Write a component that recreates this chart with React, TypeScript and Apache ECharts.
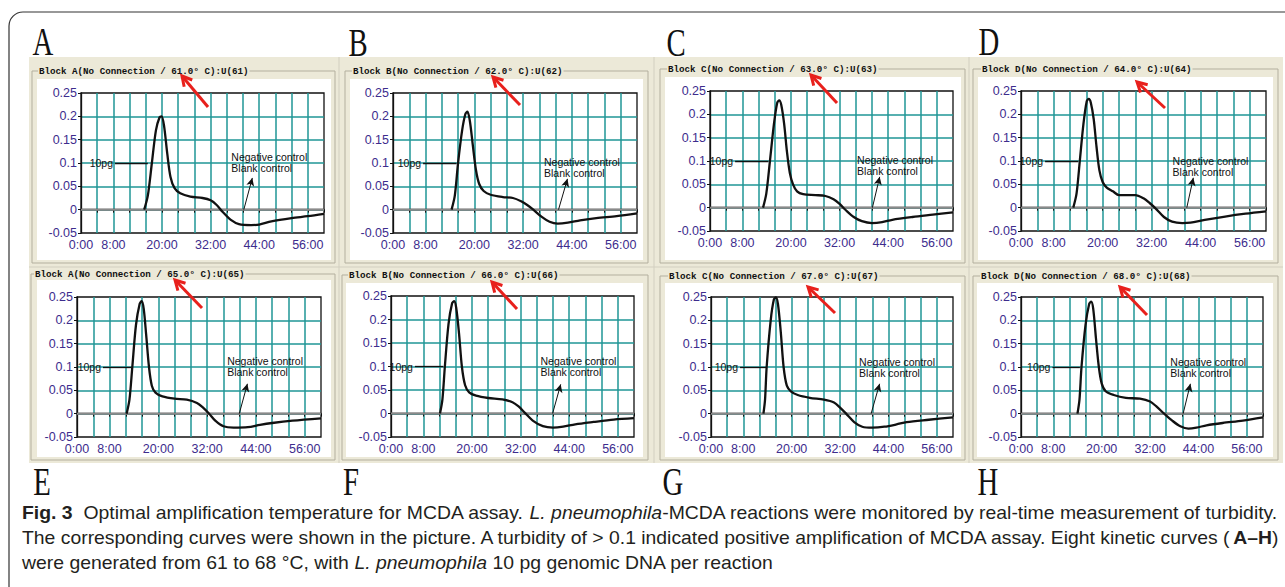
import React, { useEffect, useRef } from "react";
import * as echarts from "echarts";

// ---------- data ----------
const panelLetters = ["A", "B", "C", "D", "E", "F", "G", "H"];
const blockNames = ["A", "B", "C", "D", "A", "B", "C", "D"];
const temperatures = [61, 62, 63, 64, 65, 66, 67, 68];
const xTickValues = [0, 8, 20, 32, 44, 56];
const xTickLabels = ["0:00", "8:00", "20:00", "32:00", "44:00", "56:00"];
const controlTimes = [0, 60];
const controlValues = [0, 0];

// [minutes, turbidity] for the 10 pg reaction
const curve61 = [[15.6,0],[16.5,0.03],[17.5,0.1],[18.5,0.17],[19.4,0.198],[19.9,0.2],[20.5,0.18],[21.3,0.12],[22.1,0.07],[23.1,0.046],[24.5,0.035],[27,0.028],[30,0.025],[32,0.02],[33.5,0.01],[35,-0.005],[37,-0.022],[39,-0.031],[42,-0.033],[44,-0.032],[47,-0.025],[52,-0.018],[56,-0.014],[60,-0.009]];
const curve62 = [[14.4,0],[15.2,0.03],[16,0.1],[17,0.17],[17.8,0.205],[18.3,0.21],[18.9,0.19],[19.6,0.14],[20.4,0.085],[21.2,0.055],[22.3,0.04],[24,0.032],[27,0.027],[29.5,0.025],[31.5,0.018],[33,0.01],[34.5,0],[36.5,-0.015],[38.5,-0.026],[40.5,-0.03],[43,-0.028],[46,-0.023],[50,-0.018],[55,-0.014],[60,-0.008]];
const curve63 = [[13.1,0],[13.9,0.03],[14.8,0.1],[15.8,0.18],[16.6,0.225],[17.1,0.23],[17.6,0.22],[18.3,0.18],[19,0.12],[19.7,0.075],[20.5,0.05],[21.5,0.035],[23,0.029],[26,0.027],[28.5,0.025],[30.5,0.018],[32,0.008],[33.5,-0.005],[35.5,-0.02],[37.5,-0.029],[40,-0.033],[42.5,-0.031],[45,-0.026],[50,-0.02],[55,-0.015],[60,-0.01]];
const curve64 = [[12.8,0],[13.6,0.03],[14.4,0.1],[15.3,0.18],[16.1,0.228],[16.6,0.233],[17.1,0.225],[17.8,0.19],[18.5,0.13],[19.2,0.08],[20,0.055],[21,0.043],[22.5,0.035],[24,0.027],[28,0.027],[30,0.02],[31.5,0.01],[33,-0.002],[35,-0.02],[37,-0.03],[39.5,-0.033],[41.5,-0.032],[45,-0.026],[50,-0.019],[55,-0.013],[60,-0.008]];
const curve65 = [[12.2,0],[12.9,0.03],[13.6,0.1],[14.5,0.19],[15.4,0.235],[15.9,0.241],[16.4,0.225],[17,0.17],[17.7,0.1],[18.4,0.06],[19.3,0.045],[21,0.037],[24,0.032],[27,0.03],[29.5,0.023],[31,0.013],[32.5,0],[34,-0.015],[36,-0.027],[38.5,-0.03],[42,-0.029],[45,-0.024],[48,-0.02],[53,-0.015],[60,-0.01]];
const curve66 = [[12.1,0],[12.7,0.03],[13.3,0.1],[14.2,0.19],[15.1,0.235],[15.6,0.239],[16.1,0.225],[16.8,0.17],[17.5,0.1],[18.3,0.06],[19.3,0.045],[21,0.038],[24,0.033],[27.5,0.03],[30,0.024],[31.5,0.015],[33,0.002],[35,-0.015],[37.5,-0.027],[40,-0.03],[42.5,-0.028],[45.5,-0.023],[50,-0.018],[55,-0.013],[60,-0.01]];
const curve67 = [[13,0],[13.4,0.03],[13.8,0.1],[14.8,0.2],[15.6,0.245],[16.1,0.249],[16.6,0.235],[17.3,0.175],[18,0.1],[18.8,0.06],[19.8,0.048],[21.5,0.04],[24.5,0.034],[28,0.03],[30.5,0.024],[32,0.013],[33.5,0],[35.5,-0.018],[37.5,-0.028],[40,-0.03],[43,-0.028],[46,-0.023],[48.5,-0.018],[54,-0.013],[60,-0.008]];
const curve68 = [[14,0],[14.5,0.03],[15,0.1],[16,0.19],[16.9,0.235],[17.4,0.24],[17.9,0.225],[18.6,0.16],[19.3,0.1],[20,0.065],[21,0.048],[23,0.04],[26,0.034],[29.5,0.032],[32,0.026],[33.5,0.016],[35.5,0],[37.5,-0.015],[39.5,-0.027],[41.5,-0.032],[43.5,-0.03],[46,-0.025],[50,-0.02],[55,-0.015],[60,-0.008]];
const curves = [curve61, curve62, curve63, curve64, curve65, curve66, curve67, curve68];

// annotation anchors in data units (minutes, turbidity)
const pgLineStart = [8.4, 7.4, 6.2, 5.9, 6.4, 5.9, 7.2, 7.8];
const pgLineEnd = [16.5, 15.6, 14.4, 14.0, 13.4, 12.9, 13.8, 14.6];
const pgLevel = 0.1;
const ctrlTextX = [37.0, 37.0, 36.2, 37.0, 36.8, 36.8, 36.6, 36.9];
const ctrlTextY = [0.101, 0.091, 0.09, 0.089, 0.101, 0.101, 0.1, 0.1];
const ctrlArrowFrom = [40.2, 40.7, 40.1, 40.6, 39.9, 39.9, 39.7, 40.2];
const ctrlArrowToX = [42.3, 42.9, 41.9, 42.2, 41.9, 41.9, 41.8, 42.0];
const ctrlArrowToY = [0.068, 0.066, 0.066, 0.064, 0.064, 0.062, 0.064, 0.064];

// ---------- layout (pixels) ----------
const gridBoxes = [
  [81, 93, 243, 140], [393, 93, 244, 140], [710, 91, 243, 140], [1021, 91, 245, 140],
  [77, 297, 244, 140], [391, 296, 243, 141], [711, 297, 242, 140], [1021, 297, 242, 140],
];
const frames = [
  [32, 71, 335, 263], [345, 71, 648, 263], [660, 69, 965, 263], [973, 69, 1278, 263],
  [31, 274, 335, 460], [342, 275, 648, 460], [660, 276, 965, 460], [973, 276, 1278, 460],
];
const inners = [
  [37, 79, 331, 260], [350, 79, 643, 260], [665, 77, 961, 260], [978, 77, 1273, 260],
  [37, 280, 331, 457], [346, 283, 643, 457], [665, 283, 961, 457], [977, 283, 1273, 457],
];
const titlePos = [
  [38, 71.5], [352, 71], [667, 69], [981, 69], [34, 274], [348, 275], [668, 276], [980, 276],
];
const letterPos = [
  [43, 41.5], [358, 42.5], [676, 43], [989, 42], [42, 482], [351, 482], [673, 482], [988, 482],
];
const redArrows = [
  [182, 76, 208, 107], [493, 77, 520, 105], [811, 75, 837, 103], [1137, 82, 1165, 108],
  [175, 280, 202, 308], [492, 282, 517, 309], [808, 287, 835, 313], [1120, 287, 1147, 315],
];

const BEIGE = "#ece9d8";
const TEAL = "#1f9696";
const LABEL = "#3d2c8d";
const SANS = "'Liberation Sans', Arial, sans-serif";
const CAP_FONT = "'Liberation Sans Narrow', 'Liberation Sans', Arial, sans-serif";
const CAP_SIZE = 18;

const captionLines: [string, string][][] = [
  [["b", "Fig. 3"], ["n", "  Optimal amplification temperature for MCDA assay. "], ["i", "L. pneumophila"], ["n", "-MCDA reactions were monitored by real-time measurement of turbidity."]],
  [["n", "The corresponding curves were shown in the picture. A turbidity of > 0.1 indicated positive amplification of MCDA assay. Eight kinetic curves ("], ["b", "A–H"], ["n", ")"]],
  [["n", "were generated from 61 to 68 °C, with "], ["i", "L. pneumophila"], ["n", " 10 pg genomic DNA per reaction"]],
];
const captionY = [513, 538, 563];

function fontFor(kind: string) {
  if (kind === "b") return `normal 700 ${CAP_SIZE}px ${CAP_FONT}`;
  if (kind === "i") return `italic 400 ${CAP_SIZE}px ${CAP_FONT}`;
  return `normal 400 ${CAP_SIZE}px ${CAP_FONT}`;
}

function measureLine(segs: [string, string][]) {
  const c = document.createElement("canvas").getContext("2d");
  if (!c) return 1000;
  let w = 0;
  for (const [k, t] of segs) {
    c.font = fontFor(k);
    w += c.measureText(t).width;
  }
  return w;
}

function arrowHead(hx: number, hy: number, tx: number, ty: number) {
  const a = Math.atan2(ty - hy, tx - hx);
  const L = 11;
  const d = 0.5;
  return [
    [hx + L * Math.cos(a + d), hy + L * Math.sin(a + d)],
    [hx, hy],
    [hx + L * Math.cos(a - d), hy + L * Math.sin(a - d)],
  ];
}

function buildOption() {
  const grid: any[] = [];
  const xAxis: any[] = [];
  const yAxis: any[] = [];
  const series: any[] = [];
  const graphic: any[] = [];

  graphic.push({ type: "rect", shape: { x: 9, y: 12, width: 1320, height: 700, r: 14 }, style: { fill: "#fff", stroke: "#333", lineWidth: 1.2 }, z: -10 });
  graphic.push({ type: "rect", shape: { x: 29, y: 57, width: 1254, height: 406 }, style: { fill: BEIGE }, z: -9 });
  [339, 654, 969].forEach((x) =>
    graphic.push({ type: "line", shape: { x1: x, y1: 57, x2: x, y2: 463 }, style: { stroke: "#d2cfc0", lineWidth: 1 }, z: -8 })
  );
  graphic.push({ type: "line", shape: { x1: 29, y1: 267, x2: 1283, y2: 267 }, style: { stroke: "#d2cfc0", lineWidth: 1 }, z: -8 });

  for (let i = 0; i < 8; i++) {
    const [gl, gt, gw, gh] = gridBoxes[i];
    grid.push({ left: gl, top: gt, width: gw, height: gh, show: true, backgroundColor: "#fff", borderColor: "#111", borderWidth: 1.3 });
    xAxis.push({
      gridIndex: i, type: "value", min: 0, max: 60, interval: 4,
      axisLine: { show: true, lineStyle: { color: "#111", width: 1.3 } },
      axisTick: { show: true, length: 3, lineStyle: { color: "#111" } },
      axisLabel: {
        color: LABEL, fontSize: 12.5, fontFamily: SANS, margin: 5,
        formatter: (v: number) => { const k = xTickValues.indexOf(v); return k >= 0 ? xTickLabels[k] : ""; },
      },
      splitLine: { show: true, showMinLine: false, showMaxLine: false, lineStyle: { color: TEAL, width: 1.5 } },
    });
    yAxis.push({
      gridIndex: i, type: "value", min: -0.05, max: 0.25, interval: 0.05,
      axisLine: { show: true, lineStyle: { color: "#111", width: 1.3 } },
      axisTick: { show: true, length: 3, lineStyle: { color: "#111" } },
      axisLabel: { color: LABEL, fontSize: 12.5, fontFamily: SANS, margin: 4 },
      splitLine: { show: true, showMinLine: false, showMaxLine: false, lineStyle: { color: TEAL, width: 1.5 } },
    });
    series.push({
      name: "Negative control / Blank control", type: "line", xAxisIndex: i, yAxisIndex: i,
      data: controlTimes.map((t, k) => [t, controlValues[k]]),
      symbol: "none", silent: true, lineStyle: { color: "#8a8a8a", width: 2 }, z: 3,
    });
    series.push({
      name: "10pg", type: "line", xAxisIndex: i, yAxisIndex: i, data: curves[i],
      smooth: 0.3, symbol: "none", silent: true, lineStyle: { color: "#111", width: 2.3 }, z: 4,
      markLine: {
        silent: true, symbol: ["none", "none"],
        lineStyle: { type: "solid", color: "#111", width: 1.3 },
        data: [
          [
            { coord: [pgLineStart[i], pgLevel], label: { show: true, position: "start", formatter: "10pg", distance: 2, color: "#111", fontSize: 10.5, fontFamily: SANS } },
            { coord: [pgLineEnd[i], pgLevel] },
          ],
          [
            { coord: [ctrlArrowFrom[i], 0], label: { show: false }, lineStyle: { width: 1 } },
            { coord: [ctrlArrowToX[i], ctrlArrowToY[i]], symbol: "arrow", symbolSize: [6, 8] },
          ],
        ],
      },
      markPoint: {
        silent: true,
        data: [
          {
            coord: [ctrlTextX[i], ctrlTextY[i]], symbol: "rect", symbolSize: 1,
            itemStyle: { color: "rgba(0,0,0,0)" },
            label: { show: true, position: "right", distance: 0, formatter: "Negative control\nBlank control", color: "#111", fontSize: 10.5, lineHeight: 11, fontFamily: SANS, align: "left" },
          },
        ],
      },
    });

    const [fx1, fy1, fx2, fy2] = frames[i];
    graphic.push({ type: "rect", shape: { x: fx1, y: fy1, width: fx2 - fx1, height: fy2 - fy1 }, style: { fill: "none", stroke: "#b3af9e", lineWidth: 1 }, z: -5 });
    const [ix1, iy1, ix2, iy2] = inners[i];
    graphic.push({ type: "rect", shape: { x: ix1, y: iy1, width: ix2 - ix1, height: iy2 - iy1 }, style: { fill: "#fff" }, z: -4 });
    graphic.push({
      type: "text", x: titlePos[i][0], y: titlePos[i][1], z: -3,
      style: {
        text: `Block ${blockNames[i]}(No Connection / ${temperatures[i].toFixed(1)}° C):U(${temperatures[i]})`,
        fontFamily: "'Liberation Mono', 'DejaVu Sans Mono', monospace", fontWeight: "bold", fontSize: 9.2,
        fill: "#111", align: "left", verticalAlign: "middle", backgroundColor: BEIGE, padding: [0, 1],
      },
    });
    graphic.push({
      type: "text", x: letterPos[i][0], y: letterPos[i][1], scaleX: 0.72, z: 5,
      style: { text: panelLetters[i], fontFamily: "'Liberation Serif', serif", fontWeight: "normal", fontSize: 40, fill: "#111", align: "center", verticalAlign: "middle" },
    });
    const [hx, hy, tx, ty] = redArrows[i];
    graphic.push({ type: "line", shape: { x1: tx, y1: ty, x2: hx, y2: hy }, style: { stroke: "#e8201c", lineWidth: 3 }, z: 100 });
    graphic.push({ type: "polyline", shape: { points: arrowHead(hx, hy, tx, ty) }, style: { stroke: "#e8201c", lineWidth: 3, fill: "none", lineJoin: "miter" }, z: 100 });
  }

  const rich = {
    n: { fontFamily: CAP_FONT, fontSize: CAP_SIZE, fontWeight: "normal", fill: "#231f20" },
    b: { fontFamily: CAP_FONT, fontSize: CAP_SIZE, fontWeight: "bold", fill: "#231f20" },
    i: { fontFamily: CAP_FONT, fontSize: CAP_SIZE, fontStyle: "italic", fill: "#231f20" },
  };
  const target = 1257;
  const s1 = target / measureLine(captionLines[0]);
  const s2 = target / measureLine(captionLines[1]);
  const scales = [s1, s2, s1];
  captionLines.forEach((segs, li) => {
    graphic.push({
      type: "text", x: 22, y: captionY[li], scaleX: scales[li], z: 5,
      style: { text: segs.map(([k, t]) => `{${k}|${t}}`).join(""), rich, align: "left", verticalAlign: "middle" },
    });
  });

  return { animation: false, backgroundColor: "#fff", grid, xAxis, yAxis, series, graphic };
}

export default function App() {
  const ref = useRef<HTMLDivElement>(null);
  useEffect(() => {
    if (!ref.current) return;
    const chart = echarts.init(ref.current, undefined, { renderer: "svg" });
    chart.setOption(buildOption() as any);
    return () => chart.dispose();
  }, []);
  return <div ref={ref} style={{ position: "fixed", left: 0, top: 0, width: 1285, height: 587, background: "#fff" }} />;
}
